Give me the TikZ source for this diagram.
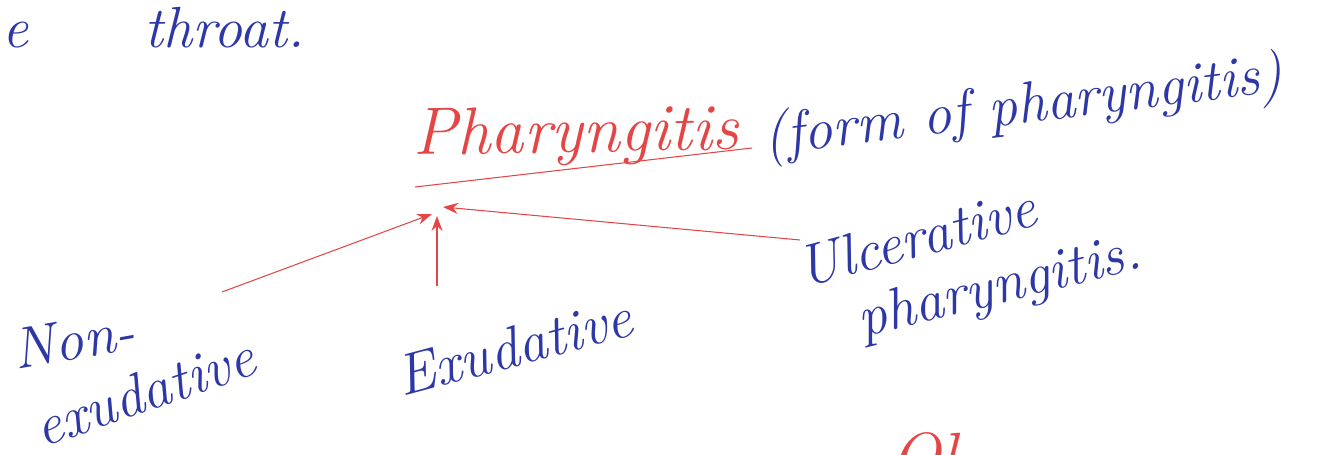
\documentclass[tikz,border=0pt]{standalone}
\usetikzlibrary{arrows.meta}
\definecolor{inkblue}{RGB}{45,55,165}
\definecolor{inkred}{RGB}{228,70,70}

\begin{document}
\begin{tikzpicture}[
    x=0.02cm, y=-0.02cm,
    note/.style={text=inkblue, font=\fontsize{33}{36}\selectfont\itshape,
                 inner sep=0pt, anchor=base west},
    head/.style={text=inkred, font=\fontsize{38}{42}\selectfont\itshape,
                 inner sep=0pt, anchor=base west},
    arr/.style={-{Stealth[length=3mm,width=2.2mm]}, draw=inkred, semithick}
  ]
  \useasboundingbox (0,0) rectangle (1321,455);
  \clip (0,0) rectangle (1321,455);

  % top line left over from the page above
  \node[note] (throat) at (2,48) {e\hspace{2em}throat.};

  % heading
  \node[head, rotate=1] (phar) at (413,155) {Pharyngitis};
  \node[note, rotate=7] (form) at (765,155) {(form of pharyngitis)};
  \draw[inkred, semithick] (415,187) -- (752,148);

  % the three kinds
  \node[note, rotate=10] (non)   at (16,370) {Non-};
  \node[note, rotate=19] (nonex) at (42,448) {exudative};
  \node[note, rotate=15] (exud)  at (402,397) {Exudative};
  \node[note, rotate=15] (ulc)   at (803,288) {Ulcerative};
  \node[note, rotate=14] (ulcph) at (862,338) {pharyngitis.};

  % arrows up to the heading
  \coordinate (hubA) at (432,214);
  \coordinate (hubB) at (443,207);
  \coordinate (nonend) at (222,292);
  \coordinate (exend)  at (437,286);
  \coordinate (ulcend) at (800,240);
  \draw[arr] (nonend) -- (hubA);
  \draw[arr] (exend) -- (437,216);
  \draw[arr] (ulcend) -- (hubB);

  % start of the next heading, cut by the page edge
  \node[head, anchor=north west] (next) at (890,432) {Ol};
\end{tikzpicture}
\end{document}
